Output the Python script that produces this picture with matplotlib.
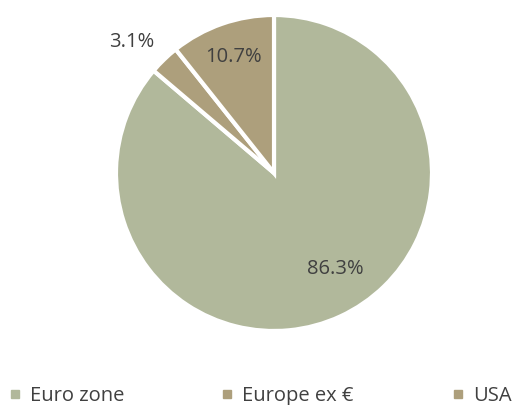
import numpy as np
import matplotlib.pyplot as plt
from matplotlib.lines import Line2D

labels = ["Euro zone", "Europe ex €", "USA"]
shares = [86.3, 3.1, 10.7]
colors = ["#b1b89b", "#ad9f7c", "#ad9f7c"]

plt.rcParams['font.family'] = ['Open Sans', 'DejaVu Sans']

fig = plt.figure(figsize=(5.16, 4.05), dpi=100)
ax = fig.add_axes([0, 0, 1, 1])

cx, cy, r = 274, 232, 158
wedges, _ = ax.pie(shares, colors=colors, startangle=90, counterclock=False,
                   center=(cx, cy), radius=r, frame=True,
                   wedgeprops=dict(edgecolor='white', linewidth=3))
ax.set_xlim(0, 516)
ax.set_ylim(0, 405)
ax.axis('off')

# label distance (fraction of radius) and nudge in pixels
label_dist = [0.71, 1.22, 0.78]
nudge = [(14, 6), (-8, -8), (0, 0)]
for w, val, d, (dx, dy) in zip(wedges, shares, label_dist, nudge):
    ang = np.deg2rad((w.theta1 + w.theta2) / 2)
    ax.text(cx + d * r * np.cos(ang) + dx, cy + d * r * np.sin(ang) + dy,
            f"{val}%", ha='center', va='center', fontsize=14.5, color='#404040')

# legend entries spread along the bottom edge
legend_x = [0.002, 0.413, 0.86]
for lab, c, x in zip(labels, colors, legend_x):
    h = Line2D([], [], marker='s', linestyle='', markersize=6,
               markerfacecolor=c, markeredgecolor=c)
    fig.legend([h], [lab], loc='lower left', bbox_to_anchor=(x, -0.022),
               frameon=False, fontsize=14.5, labelcolor='#404040',
               handlelength=0.6, handletextpad=0.45, borderaxespad=0)

fig.savefig('out.png', dpi=100)
